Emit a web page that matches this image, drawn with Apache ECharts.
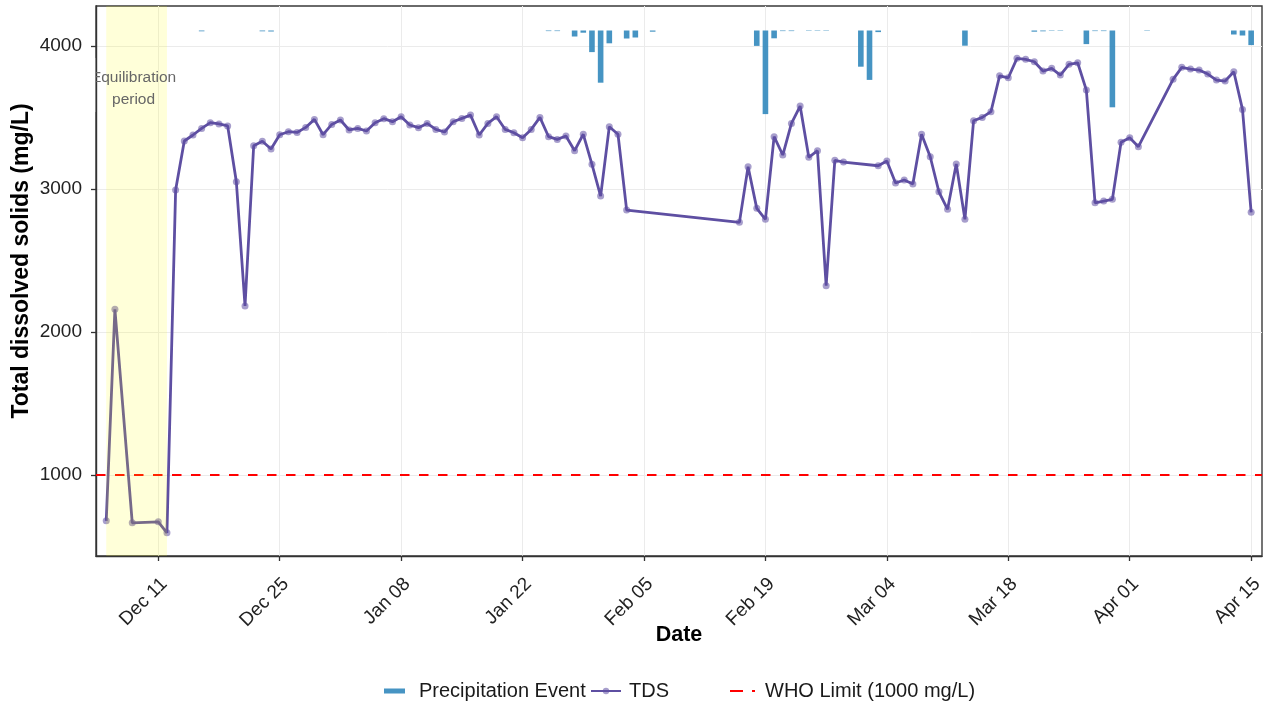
<!DOCTYPE html>
<html><head><meta charset="utf-8">
<script src="https://cdn.jsdelivr.net/npm/echarts@6/dist/echarts.min.js"></script>
<style>html,body{margin:0;padding:0;background:#fff}#chart{width:1265px;height:704px}</style>
</head><body><div id="chart"></div>
<script>
// ---- data ----
const tdsDates = [
 '2023-12-05','2023-12-06','2023-12-08','2023-12-11','2023-12-12','2023-12-13','2023-12-14','2023-12-15','2023-12-16','2023-12-17',
 '2023-12-18','2023-12-19','2023-12-20','2023-12-21','2023-12-22','2023-12-23','2023-12-24','2023-12-25','2023-12-26','2023-12-27',
 '2023-12-28','2023-12-29','2023-12-30','2023-12-31','2024-01-01','2024-01-02','2024-01-03','2024-01-04','2024-01-05','2024-01-06',
 '2024-01-07','2024-01-08','2024-01-09','2024-01-10','2024-01-11','2024-01-12','2024-01-13','2024-01-14','2024-01-15','2024-01-16',
 '2024-01-17','2024-01-18','2024-01-19','2024-01-20','2024-01-21','2024-01-22','2024-01-23','2024-01-24','2024-01-25','2024-01-26',
 '2024-01-27','2024-01-28','2024-01-29','2024-01-30','2024-01-31','2024-02-01','2024-02-02','2024-02-03',
 '2024-02-16','2024-02-17','2024-02-18','2024-02-19','2024-02-20','2024-02-21','2024-02-22','2024-02-23','2024-02-24','2024-02-25',
 '2024-02-26','2024-02-27','2024-02-28',
 '2024-03-03','2024-03-04','2024-03-05','2024-03-06','2024-03-07','2024-03-08','2024-03-09','2024-03-10','2024-03-11','2024-03-12',
 '2024-03-13','2024-03-14','2024-03-15','2024-03-16','2024-03-17','2024-03-18','2024-03-19','2024-03-20','2024-03-21','2024-03-22',
 '2024-03-23','2024-03-24','2024-03-25','2024-03-26','2024-03-27','2024-03-28','2024-03-29','2024-03-30','2024-03-31','2024-04-01',
 '2024-04-02',
 '2024-04-06','2024-04-07','2024-04-08','2024-04-09','2024-04-10','2024-04-11','2024-04-12','2024-04-13','2024-04-14','2024-04-15'
];
const tdsValues = [
 680,2159,666,673,596,2993,3336,3378,3424,3464,
 3455,3441,3051,2182,3303,3334,3280,3380,3401,3396,
 3431,3487,3380,3452,3483,3413,3424,3406,3464,3492,
 3471,3506,3448,3429,3459,3417,3399,3471,3494,3517,
 3378,3459,3506,3417,3394,3359,3417,3501,3366,3347,
 3371,3268,3383,3173,2951,3436,3383,2853,
 2767,3156,2865,2788,3366,3238,3459,3580,3222,3268,
 2324,3201,3189,
 3163,3196,3042,3063,3035,3383,3226,2981,2858,3175,
 2788,3478,3501,3541,3792,3778,3914,3907,3890,3825,
 3844,3797,3872,3883,3692,2904,2916,2928,3327,3359,
 3296,
 3767,3851,3839,3832,3804,3762,3755,3820,3557,2837
];
const precipDates = [
 '2023-12-16','2023-12-23','2023-12-24',
 '2024-01-25','2024-01-26','2024-01-28','2024-01-29','2024-01-30','2024-01-31','2024-02-01','2024-02-03','2024-02-04','2024-02-06',
 '2024-02-18','2024-02-19','2024-02-20','2024-02-21','2024-02-22','2024-02-24','2024-02-25','2024-02-26',
 '2024-03-01','2024-03-02','2024-03-03','2024-03-13',
 '2024-03-21','2024-03-22','2024-03-23','2024-03-24','2024-03-27','2024-03-28','2024-03-29','2024-03-30',
 '2024-04-03','2024-04-13','2024-04-14','2024-04-15'
];
const precipValues = [
 0.4,0.4,0.5,
 0.3,0.3,3.0,1.1,10.8,26.1,6.4,4.0,3.5,0.6,
 7.7,41.8,3.9,0.3,0.3,0.2,0.2,0.2,
 18.1,24.7,0.8,7.6,
 0.6,0.4,0.2,0.2,6.8,0.3,0.3,38.4,
 0.2,2.0,2.5,7.3
];
const xTickDates = ['2023-12-11','2023-12-25','2024-01-08','2024-01-22','2024-02-05','2024-02-19','2024-03-04','2024-03-18','2024-04-01','2024-04-15'];
const yTickValues = [1000, 2000, 3000, 4000];
const whoLimit = 1000;
const equilibrationPeriod = ['2023-12-05', '2023-12-12'];
const monthNames = ['Jan','Feb','Mar','Apr','May','Jun','Jul','Aug','Sep','Oct','Nov','Dec'];

// ---- helpers ----
const DAY = 86400000;
function ts(s){ const p = s.split('-').map(Number); return Date.UTC(p[0], p[1]-1, p[2]); }
function fmt(v){ const d = new Date(v); const dd = d.getUTCDate(); return monthNames[d.getUTCMonth()] + ' ' + (dd < 10 ? '0' + dd : dd); }

const xMin = ts('2023-12-11') - 7.18 * DAY;
const xMax = xMin + 134.43 * DAY;
const FONT = 'Liberation Sans, Arial, Helvetica, sans-serif';

const chart = echarts.init(document.getElementById('chart'), null, {renderer: 'canvas'});
chart.setOption({
  animation: false,
  backgroundColor: '#ffffff',
  textStyle: {fontFamily: FONT},
  grid: {left: 96, right: 3, top: 6, bottom: 148, show: true, borderColor: '#3a3a3a', borderWidth: 1.4, backgroundColor: 'transparent', outerBoundsMode: 'none'},
  legend: [
    {data: ['Precipitation Event'], left: 384, top: 681, padding: 0, icon: 'rect', itemWidth: 21, itemHeight: 5,
     textStyle: {fontSize: 20, color: '#1a1a1a', padding: [0,0,0,9], fontFamily: FONT}},
    {data: ['TDS'], left: 590, top: 681, padding: 0, itemWidth: 30, itemHeight: 8,
     textStyle: {fontSize: 20, color: '#1a1a1a', padding: [0,0,0,3], fontFamily: FONT}},
    {data: [{name: 'WHO Limit (1000 mg/L)', icon: 'path://M0 0H13V2H0Z M22 0H25V2H22Z'}], left: 730, top: 681, padding: 0, itemWidth: 25, itemHeight: 2,
     textStyle: {fontSize: 20, color: '#1a1a1a', padding: [0,0,0,5], fontFamily: FONT}}
  ],
  xAxis: {
    type: 'value', min: xMin, max: xMax,
    name: 'Date', nameLocation: 'middle', nameGap: 68, nameMoveOverlap: false,
    nameTextStyle: {fontSize: 21.5, fontWeight: 'bold', color: '#000', fontFamily: FONT},
    axisLine: {show: true, onZero: false, lineStyle: {color: '#333', width: 1.4}},
    axisTick: {show: true, length: 5, customValues: xTickDates.map(ts), lineStyle: {color: '#333', width: 1.3}},
    axisLabel: {customValues: xTickDates.map(ts), formatter: fmt, rotate: 45, margin: 19,
                align: 'right', verticalAlign: 'top', lineHeight: 17,
                fontSize: 19, color: '#222', fontFamily: FONT},
    splitLine: {show: true, lineStyle: {color: '#EBEBEB', width: 1}}
  },
  yAxis: [
    {
      type: 'value', min: 434, max: 4280,
      name: 'Total dissolved solids (mg/L)', nameLocation: 'middle', nameGap: 63, nameMoveOverlap: false,
      nameTextStyle: {fontSize: 23, fontWeight: 'bold', color: '#000', fontFamily: FONT, padding: [0,0,0,40]},
      axisLine: {show: true, onZero: false, lineStyle: {color: '#333', width: 1.4}},
      axisTick: {show: true, length: 5, customValues: yTickValues, lineStyle: {color: '#333', width: 1.3}},
      axisLabel: {customValues: yTickValues, formatter: (v) => String(v), margin: 14, fontSize: 19, color: '#222', fontFamily: FONT},
      splitLine: {show: true, lineStyle: {color: '#EBEBEB', width: 1}}
    },
    {
      type: 'value', show: false, inverse: true, min: -12.25, max: 262.75,
      splitLine: {show: false}
    }
  ],
  series: [
    {
      name: 'Precipitation Event', type: 'bar', yAxisIndex: 1, barWidth: 5.6, z: 2,
      itemStyle: {color: 'rgba(50,136,189,0.9)'},
      data: precipDates.map((d, i) => [ts(d), precipValues[i]])
    },
    {
      name: 'TDS', type: 'line', z: 3,
      symbol: 'circle', symbolSize: 7, showSymbol: true,
      lineStyle: {color: '#5E4FA2', width: 2.8},
      itemStyle: {color: 'rgba(94,79,162,0.55)', borderWidth: 0},
      data: tdsDates.map((d, i) => [ts(d), tdsValues[i]])
    },
    {
      name: 'WHO Limit (1000 mg/L)', type: 'line', z: 4, symbol: 'none',
      lineStyle: {color: '#FF0000', width: 2, type: [9.5, 9.5]},
      itemStyle: {color: '#FF0000'},
      data: [[xMin, whoLimit], [xMax, whoLimit]]
    },
    {
      name: 'equilibration', type: 'line', z: 10, data: [],
      markArea: {
        silent: true, z: 10,
        itemStyle: {color: 'rgba(255,255,0,0.15)'},
        label: {show: true, position: ['45%', 61], align: 'center', verticalAlign: 'top',
                fontSize: 15.5, lineHeight: 22, color: '#666', fontFamily: FONT,
                formatter: 'Equilibration\nperiod'},
        data: [[{xAxis: ts(equilibrationPeriod[0])}, {xAxis: ts(equilibrationPeriod[1])}]]
      }
    }
  ],
  graphic: [
    {type: 'rect', z: 100, silent: true, shape: {x: 40, y: 58, width: 55.2, height: 54}, style: {fill: '#ffffff'}}
  ]
});
</script>
</body></html>
